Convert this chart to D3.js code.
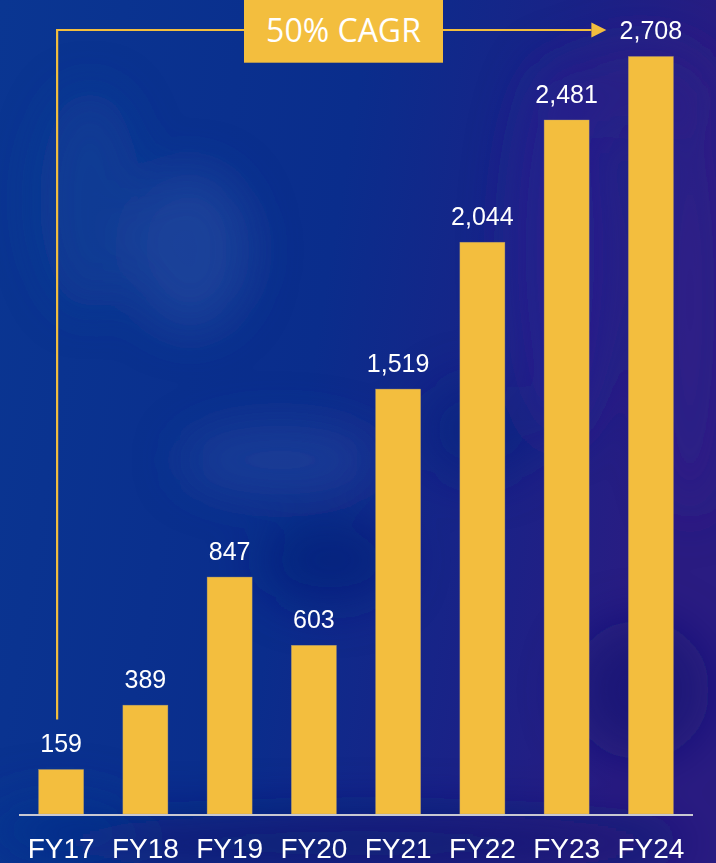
<!DOCTYPE html>
<html>
<head>
<meta charset="utf-8">
<script src="https://cdn.jsdelivr.net/npm/d3@7"></script>
<style>
  html, body { margin: 0; padding: 0; background: #0a2d8c; }
  svg { display: block; }
</style>
</head>
<body>
<div id="chart"></div>
<script>
// Revenue by fiscal year
const years = ["FY17", "FY18", "FY19", "FY20", "FY21", "FY22", "FY23", "FY24"];
const revenue = [159, 389, 847, 603, 1519, 2044, 2481, 2708];
const cagrLabel = "50% CAGR";

const W = 716, H = 863;
const gold = "#F3BE3E";

const svg = d3.select("#chart").append("svg")
  .attr("width", W).attr("height", H);

// ---- soft photographic backdrop ----
const defs = svg.append("defs");
defs.append("filter").attr("id", "soft")
  .attr("x", "-50%").attr("y", "-50%").attr("width", "200%").attr("height", "200%")
  .append("feGaussianBlur").attr("stdDeviation", 24);

const baseGrad = defs.append("linearGradient").attr("id", "base")
  .attr("x1", 0).attr("y1", 0).attr("x2", 1).attr("y2", 0.2);
baseGrad.append("stop").attr("offset", "0%").attr("stop-color", "#0a3692");
baseGrad.append("stop").attr("offset", "50%").attr("stop-color", "#0a2d8c");
baseGrad.append("stop").attr("offset", "78%").attr("stop-color", "#1a2287");
baseGrad.append("stop").attr("offset", "100%").attr("stop-color", "#2a1c82");

const bg = svg.append("g");
bg.append("rect").attr("width", W).attr("height", H).attr("fill", "url(#base)");

const blobs = bg.append("g").attr("filter", "url(#soft)");
const blob = (cx, cy, rx, ry, c, o) => blobs.append("ellipse")
  .attr("cx", cx).attr("cy", cy).attr("rx", rx).attr("ry", ry)
  .attr("fill", c).attr("opacity", o);
blob(190, 250, 60, 80, "#2a4ea2", 0.55);
blob(280, 460, 100, 35, "#2a4ba0", 0.5);
blob(90, 200, 50, 110, "#184599", 0.45);
blob(560, 250, 50, 190, "#2b2290", 0.6);
blob(690, 300, 40, 220, "#30208a", 0.55);
blob(640, 90, 80, 50, "#2e1e86", 0.55);
blob(330, 560, 70, 45, "#0a1d78", 0.6);
blob(480, 430, 60, 50, "#0d1f7d", 0.45);
blob(640, 690, 70, 70, "#0c1870", 0.6);
blob(360, 843, 330, 30, "#0b1a70", 0.75);
blob(60, 830, 80, 35, "#0b3390", 0.55);

// ---- scales ----
const x = d3.scaleBand()
  .domain(years)
  .range([19, 693])
  .paddingInner(0.466)
  .paddingOuter(0.233);

const y = d3.scaleLinear()
  .domain([0, 2910])
  .range([814, 0]);

const data = years.map((yr, i) => ({ yr, v: revenue[i] }));

// ---- bars ----
svg.append("g").selectAll("rect")
  .data(data)
  .join("rect")
  .attr("x", d => x(d.yr))
  .attr("y", d => y(d.v))
  .attr("width", x.bandwidth())
  .attr("height", d => y(0) - y(d.v))
  .attr("fill", gold)
  .attr("stroke", "#b8a070")
  .attr("stroke-width", 0.6)
  .attr("stroke-opacity", 0.6);

// ---- value labels ----
const fmt = d3.format(",");
svg.append("g").selectAll("text")
  .data(data)
  .join("text")
  .attr("x", d => x(d.yr) + x.bandwidth() / 2)
  .attr("y", d => y(d.v) - 17.5)
  .attr("text-anchor", "middle")
  .attr("fill", "#ffffff")
  .attr("font-family", "'Liberation Sans', Arial, sans-serif")
  .attr("font-size", 25)
  .text(d => fmt(d.v));

// ---- category axis ----
const axis = svg.append("g")
  .attr("transform", `translate(0,${y(0) + 1})`)
  .call(d3.axisBottom(x).tickSize(0).tickPadding(0));
axis.select(".domain")
  .attr("d", `M19,0H693`)
  .attr("stroke", "#c9c9d2")
  .attr("stroke-width", 2);
axis.selectAll(".tick text")
  .attr("dy", null)
  .attr("y", 43)
  .attr("fill", "#ffffff")
  .attr("font-family", "'Liberation Sans', Arial, sans-serif")
  .attr("font-size", 28);

// ---- CAGR bracket ----
const first = data[0], last = data[data.length - 1];
const lx = x(first.yr) + x.bandwidth() / 2 - 4;
const ly = y(first.v) - 50;
const topY = 30;
const tipX = x(last.yr) - 22;
const arrowLen = 15;

svg.append("path")
  .attr("d", `M${lx},${ly}V${topY}H${tipX - arrowLen}`)
  .attr("fill", "none")
  .attr("stroke", gold)
  .attr("stroke-width", 2.2);
svg.append("path")
  .attr("d", `M${tipX - arrowLen},${topY - 7.5}L${tipX},${topY}L${tipX - arrowLen},${topY + 7.5}Z`)
  .attr("fill", gold);

// label box
const boxX = 244, boxW = 199, boxH = 62.7;
svg.append("rect")
  .attr("x", boxX).attr("y", 0)
  .attr("width", boxW).attr("height", boxH)
  .attr("fill", gold);
svg.append("text")
  .attr("x", boxX + boxW / 2)
  .attr("y", 41.7)
  .attr("text-anchor", "middle")
  .attr("fill", "#ffffff")
  .attr("font-family", "'Open Sans', sans-serif")
  .attr("font-size", 32)
  .text(cagrLabel);
</script>
</body>
</html>
